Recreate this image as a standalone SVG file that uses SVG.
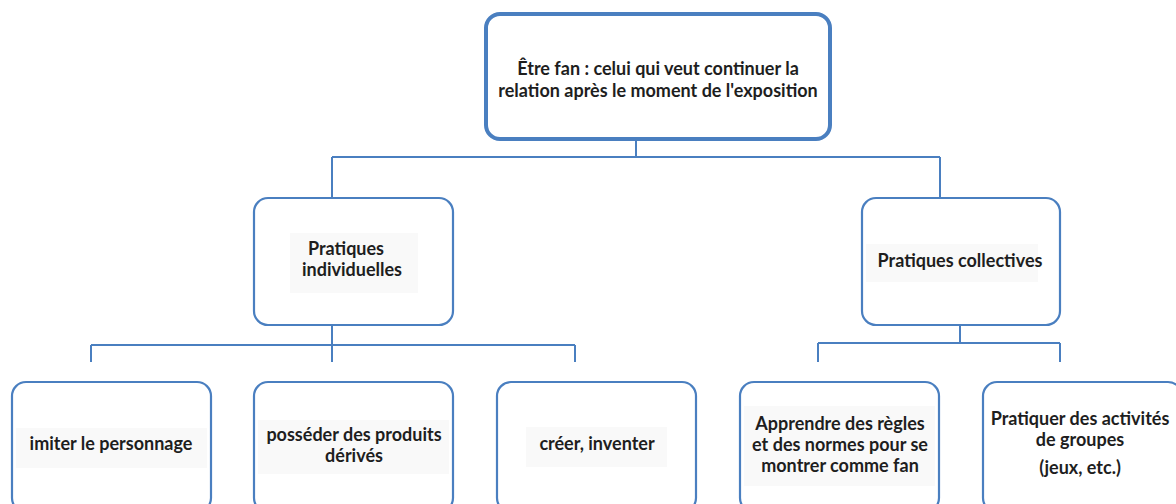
<svg xmlns="http://www.w3.org/2000/svg" width="1176" height="504" viewBox="0 0 1176 504">
<style>
.box{fill:#fff;stroke:#4a7fc0;stroke-width:2.2}
.top{stroke-width:4}
.ln{stroke:#4a7fc0;stroke-width:2;fill:none}
text{font-family:Lato,"Open Sans","Liberation Sans",sans-serif;font-weight:700;font-size:18px;fill:#1e1e1e;text-anchor:middle}
.t{font-size:18px}
.hl{fill:#f9f9f9}
</style>
<rect width="1176" height="504" fill="#fff"/>
<g id="connectors">
<path class="ln" d="M636 139V157M332 157H940M332 157V198M940 157V198"/>
<path class="ln" d="M332 325V362M91 345H575M91 345V362M575 345V362"/>
<path class="ln" d="M960 325V343M818 343H1060M818 343V362M1060 343V362"/>
</g>
<g id="n-root">
<rect class="box top" x="486" y="14" width="344" height="125" rx="14"/>
<text class="t" x="658" y="75">Être fan : celui qui veut continuer la</text>
<text class="t" x="658" y="97">relation après le moment de l'exposition</text>
</g>
<g id="n-indiv">
<rect class="box" x="254" y="198" width="199" height="127" rx="14"/>
<rect class="hl" x="290" y="233" width="128" height="60"/>
<text x="346" y="255">Pratiques</text>
<text x="352" y="276">individuelles</text>
</g>
<g id="n-coll">
<rect class="box" x="862" y="198" width="198" height="127" rx="14"/>
<rect class="hl" x="866" y="244" width="172" height="38"/>
<text x="960" y="267">Pratiques collectives</text>
</g>
<g id="n-imiter">
<rect class="box" x="12" y="382" width="199" height="130" rx="14"/>
<rect class="hl" x="16" y="428" width="191" height="40"/>
<text x="111" y="450">imiter le personnage</text>
</g>
<g id="n-posseder">
<rect class="box" x="254" y="382" width="199" height="130" rx="14"/>
<rect class="hl" x="258" y="420" width="191" height="54"/>
<text x="354" y="441">posséder des produits</text>
<text x="354" y="462">dérivés</text>
</g>
<g id="n-creer">
<rect class="box" x="497" y="382" width="199" height="130" rx="14"/>
<rect class="hl" x="526" y="427" width="141" height="40"/>
<text x="597" y="450">créer, inventer</text>
</g>
<g id="n-apprendre">
<rect class="box" x="740" y="382" width="199" height="130" rx="14"/>
<rect class="hl" x="744" y="406" width="191" height="80"/>
<text x="840" y="430">Apprendre des règles</text>
<text x="840" y="451">et des normes pour se</text>
<text x="840" y="472">montrer comme fan</text>
</g>
<g id="n-pratiquer">
<rect class="box" x="983" y="382" width="199" height="130" rx="14"/>
<text x="1080" y="425">Pratiquer des activités</text>
<text x="1080" y="446">de groupes</text>
<text x="1080" y="474">(jeux, etc.)</text>
</g>
</svg>
